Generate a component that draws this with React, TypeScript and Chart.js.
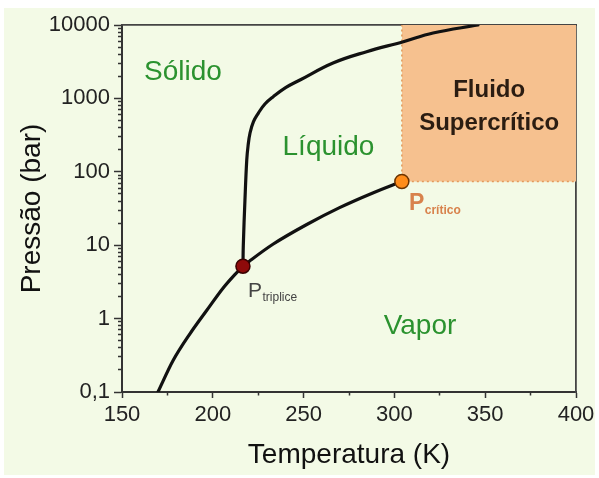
import React, { useEffect, useRef } from 'react';
import { Chart, registerables } from 'chart.js';

Chart.register(...registerables);

// ---- Data ----
const xMin = 150;
const xMax = 400;
const yMin = 0.1;
const yMax = 10000;

const xTickValues = [150, 175, 200, 225, 250, 275, 300, 325, 350, 375, 400];
const xLabelStep = 50;

const yMajorTicks = [0.1, 1, 10, 100, 1000, 10000];
const yTickLabels = ['0,1', '1', '10', '100', '1000', '10000'];
const yMinorMultipliers = [2, 3, 4, 5, 6, 7, 8, 9];

// Sublimation curve (solid / vapour)
const sublimationT = [169.8, 178.2, 187.4, 196.5, 205.6, 212.0, 216.6];
const sublimationP = [0.1, 0.27, 0.62, 1.28, 2.6, 3.95, 5.18];

// Melting curve (solid / liquid)
const meltingT = [216.6, 216.8, 217.7, 218.7, 219.4, 220.5, 222.4, 225.1, 228.7, 233.3, 240.3, 248.0, 266.2, 284.7, 304.9, 321.3, 346.0];
const meltingP = [5.18, 10, 41, 145, 224, 338, 484, 632, 839, 1055, 1409, 1781, 3036, 4327, 5920, 7782, 10000];

// Vaporisation curve (liquid / vapour)
const vaporT = [216.6, 220.3, 233.1, 251.5, 269.8, 288.1, 304.1];
const vaporP = [5.18, 6.1, 10.3, 19.0, 32.5, 51.5, 73.8];

const tripleT = 216.6;
const tripleP = 5.18;
const criticalT = 304.1;
const criticalP = 73.8;

const regionNames = ['Sólido', 'Líquido', 'Vapor'];
const regionT = [183.6, 263.7, 314.1];
const regionP = [1780, 169, 0.616];

const fluidLines = ['Fluido', 'Supercrítico'];
const fluidT = [352.2, 352.2];
const fluidP = [1044, 371];

const pointLabelMain = ['P', 'P'];
const pointLabelSub = ['triplice', 'crítico'];
const pointLabelT = [219.4, 308.0];
const pointLabelP = [1.99, 30.2];

// ---- Styles ----
const FONT = '"Liberation Sans", Arial, Helvetica, sans-serif';
const GREEN = '#2b922f';
const PEACH = '#f6c18f';
const ORANGE_EDGE = '#e39a5c';
const CURVE = '#111111';

const isMajorY = (v: number) =>
  yMajorTicks.some((m) => Math.abs(Math.log10(v) - Math.log10(m)) < 1e-6);

const buildYTicks = () => {
  const out: { value: number; major: boolean }[] = [];
  for (let i = 0; i < yMajorTicks.length; i++) {
    out.push({ value: yMajorTicks[i], major: true });
    if (i < yMajorTicks.length - 1) {
      for (const m of yMinorMultipliers) out.push({ value: yMajorTicks[i] * m, major: false });
    }
  }
  return out;
};

const toXY = (ts: number[], ps: number[]) => ts.map((t, i) => ({ x: t, y: ps[i] }));

const backgroundPlugin = {
  id: 'bgPlugin',
  beforeDraw(chart: any) {
    const { ctx, width, height } = chart;
    ctx.save();
    ctx.fillStyle = '#ffffff';
    ctx.fillRect(0, 0, width, height);
    ctx.fillStyle = '#f3fae6';
    ctx.fillRect(4, 8, width - 8, height - 11);
    ctx.restore();
  },
};

const textPlugin = {
  id: 'textPlugin',
  afterDatasetsDraw(chart: any) {
    const { ctx } = chart;
    const xs = chart.scales.x;
    const ys = chart.scales.y;
    ctx.save();
    ctx.textBaseline = 'alphabetic';
    // region names
    ctx.fillStyle = GREEN;
    ctx.font = `28px ${FONT}`;
    ctx.textAlign = 'center';
    regionNames.forEach((name, i) => {
      ctx.fillText(name, xs.getPixelForValue(regionT[i]), ys.getPixelForValue(regionP[i]));
    });
    // supercritical
    ctx.fillStyle = '#2b1d12';
    ctx.font = `bold 24px ${FONT}`;
    fluidLines.forEach((line, i) => {
      ctx.fillText(line, xs.getPixelForValue(fluidT[i]), ys.getPixelForValue(fluidP[i]));
    });
    // point labels
    ctx.textAlign = 'left';
    const styles = [
      { color: '#444444', main: `21px ${FONT}`, sub: `12px ${FONT}` },
      { color: '#d8824c', main: `bold 23px ${FONT}`, sub: `bold 12px ${FONT}` },
    ];
    pointLabelMain.forEach((m, i) => {
      const px = xs.getPixelForValue(pointLabelT[i]);
      const py = ys.getPixelForValue(pointLabelP[i]);
      ctx.fillStyle = styles[i].color;
      ctx.font = styles[i].main;
      ctx.fillText(m, px, py);
      const w = ctx.measureText(m).width;
      ctx.font = styles[i].sub;
      ctx.fillText(pointLabelSub[i], px + w + 0.5, py + 4.5);
    });
    ctx.restore();
  },
};

export default function App() {
  const canvasRef = useRef<HTMLCanvasElement | null>(null);

  useEffect(() => {
    if (!canvasRef.current) return;
    const lineBase = {
      type: 'line' as const,
      xAxisID: 'x',
      yAxisID: 'y',
      pointRadius: 0,
      fill: false,
    };
    const curve = {
      ...lineBase,
      borderColor: CURVE,
      borderWidth: 3.2,
      cubicInterpolationMode: 'monotone' as const,
      borderCapStyle: 'round' as const,
      borderJoinStyle: 'round' as const,
    };
    const chart = new Chart(canvasRef.current, {
      type: 'line',
      data: {
        datasets: [
          {
            ...lineBase,
            label: 'Ponto triplo',
            data: [{ x: tripleT, y: tripleP }],
            showLine: false,
            pointRadius: 7,
            pointBackgroundColor: '#8e0a0a',
            pointBorderColor: '#3a0000',
            pointBorderWidth: 1.5,
          },
          {
            ...lineBase,
            label: 'Ponto crítico',
            data: [{ x: criticalT, y: criticalP }],
            showLine: false,
            pointRadius: 7,
            pointBackgroundColor: '#ff8c1a',
            pointBorderColor: '#6b3300',
            pointBorderWidth: 1.5,
          },
          { ...curve, label: 'Sublimação', data: toXY(sublimationT, sublimationP) },
          {
            ...curve,
            label: 'Fusão',
            data: toXY(meltingT, meltingP),
            cubicInterpolationMode: 'default' as const,
            tension: 0.4,
          },
          { ...curve, label: 'Vaporização', data: toXY(vaporT, vaporP) },
          {
            ...lineBase,
            label: 'Limite T crítica',
            data: [
              { x: criticalT, y: criticalP },
              { x: criticalT, y: yMax },
            ],
            borderColor: ORANGE_EDGE,
            borderWidth: 1.5,
            borderDash: [2, 3],
          },
          {
            ...lineBase,
            label: 'Fluido supercrítico',
            data: [
              { x: criticalT, y: criticalP },
              { x: xMax, y: criticalP },
            ],
            borderColor: ORANGE_EDGE,
            borderWidth: 1.5,
            borderDash: [2, 3],
            fill: 'end',
            backgroundColor: PEACH,
          },
        ],
      },
      options: {
        responsive: false,
        animation: false,
        events: [],
        layout: { autoPadding: false, padding: { top: 25, right: 23, left: 0, bottom: 0 } },
        plugins: {
          legend: { display: false },
          tooltip: { enabled: false },
          title: { display: false },
        },
        scales: {
          x: {
            type: 'linear',
            position: 'bottom',
            min: xMin,
            max: xMax,
            afterBuildTicks: (s: any) => {
              s.ticks = xTickValues.map((v) => ({ value: v }));
            },
            afterFit: (s: any) => {
              s.height = 86;
            },
            ticks: {
              autoSkip: false,
              maxRotation: 0,
              padding: 4,
              color: '#222222',
              font: { family: FONT, size: 22 },
              callback: (v: any) => (v % xLabelStep === 0 ? String(v) : ''),
            },
            grid: {
              drawOnChartArea: false,
              tickLength: 6,
              tickWidth: 1.5,
              tickColor: '#333333',
              tickBorderDash: (c: any) =>
                c.tick && c.tick.value % xLabelStep !== 0 ? [2.5, 20] : [],
            },
            border: { color: '#333333', width: 2 },
            title: {
              display: true,
              text: 'Temperatura (K)',
              color: '#111111',
              font: { family: FONT, size: 28 },
              padding: { top: 0, bottom: 6 },
            },
          },
          y: {
            type: 'logarithmic',
            position: 'left',
            min: yMin,
            max: yMax,
            afterBuildTicks: (s: any) => {
              s.ticks = buildYTicks();
            },
            afterFit: (s: any) => {
              s.width = 122;
            },
            ticks: {
              autoSkip: false,
              padding: 4,
              color: '#222222',
              font: { family: FONT, size: 22 },
              callback: (v: any) => {
                const idx = yMajorTicks.findIndex(
                  (m) => Math.abs(Math.log10(v) - Math.log10(m)) < 1e-6
                );
                return idx >= 0 ? yTickLabels[idx] : '';
              },
            },
            grid: {
              drawOnChartArea: false,
              tickLength: 8,
              tickWidth: 1.5,
              tickColor: '#333333',
              tickBorderDash: (c: any) =>
                c.tick && !isMajorY(c.tick.value) ? [0, 4, 10, 0] : [],
            },
            border: { color: '#333333', width: 2 },
            title: {
              display: true,
              text: 'Pressão (bar)',
              color: '#111111',
              font: { family: FONT, size: 28 },
              padding: { top: 15, bottom: 0 },
            },
          },
          x2: {
            type: 'linear',
            position: 'top',
            min: xMin,
            max: xMax,
            ticks: { display: false },
            grid: { display: false, drawTicks: false },
            border: { display: true, color: '#444444', width: 1.8 },
            afterFit: (s: any) => {
              s.height = 0;
            },
          },
          y2: {
            type: 'logarithmic',
            position: 'right',
            min: yMin,
            max: yMax,
            ticks: { display: false },
            grid: { display: false, drawTicks: false },
            border: { display: true, color: '#444444', width: 1.8 },
            afterFit: (s: any) => {
              s.width = 0;
            },
          },
        },
      } as any,
      plugins: [backgroundPlugin, textPlugin],
    });
    return () => chart.destroy();
  }, []);

  return (
    <div style={{ position: 'absolute', left: 0, top: 0, width: 599, height: 478 }}>
      <canvas ref={canvasRef} width={599} height={478} style={{ display: 'block' }} />
    </div>
  );
}
